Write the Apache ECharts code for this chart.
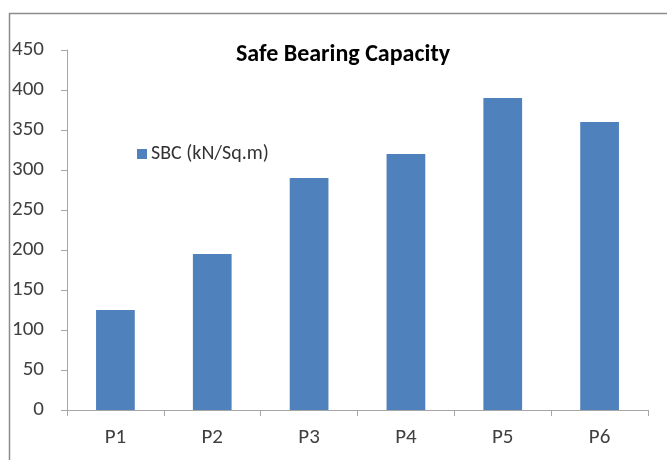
<!DOCTYPE html>
<html>
<head>
<meta charset="utf-8">
<script src="https://cdn.jsdelivr.net/npm/echarts@6/dist/echarts.min.js"></script>
<style>
  html, body { margin: 0; padding: 0; background: #fff; }
  #chart { width: 667px; height: 460px; }
</style>
</head>
<body>
<div id="chart"></div>
<script>
// Pile locations and their safe bearing capacity
const categories = ['P1', 'P2', 'P3', 'P4', 'P5', 'P6'];
const sbcValues = [125, 195, 290, 320, 390, 360];
const seriesName = 'SBC (kN/Sq.m)';
const chartTitle = 'Safe Bearing Capacity';

const fontFamily = 'Carlito, Calibri, "Open Sans", "Liberation Sans", sans-serif';
const chart = echarts.init(document.getElementById('chart'), null, { renderer: 'canvas' });

chart.setOption({
  backgroundColor: '#ffffff',
  animation: false,
  title: {
    text: chartTitle,
    left: 338,
    top: 38,
    textAlign: 'center',
    textStyle: { fontFamily, fontSize: 24, fontWeight: 'bold', color: '#000' }
  },
  legend: {
    data: [seriesName],
    left: 132,
    top: 139,
    icon: 'rect',
    itemWidth: 10,
    itemHeight: 10,
    itemGap: 4,
    textStyle: { fontFamily, fontSize: 20, color: '#333', padding: [0, 0, 0, -1] }
  },
  graphic: [{
    type: 'rect',
    shape: { x: 9.5, y: 13.5, width: 700, height: 500 },
    style: { fill: 'none', stroke: '#8c8c8c', lineWidth: 1.5 },
    silent: true
  }],
  grid: { left: 67, right: 19, top: 50, bottom: 50, containLabel: false },
  xAxis: {
    type: 'category',
    data: categories,
    boundaryGap: true,
    axisLine: { lineStyle: { color: '#a6a6a6', width: 1 } },
    axisTick: { show: true, alignWithLabel: false, length: 6, lineStyle: { color: '#a6a6a6' } },
    axisLabel: { fontFamily, fontSize: 21, color: '#404040', margin: 17 },
    splitLine: { show: false }
  },
  yAxis: {
    type: 'value',
    min: 0,
    max: 450,
    interval: 50,
    axisLine: { show: true, lineStyle: { color: '#a6a6a6', width: 1 } },
    axisTick: { show: true, length: 6, lineStyle: { color: '#a6a6a6' } },
    axisLabel: { fontFamily, fontSize: 21, color: '#404040', margin: 23 },
    splitLine: { show: false }
  },
  series: [{
    name: seriesName,
    type: 'bar',
    data: sbcValues,
    barWidth: '40%',
    itemStyle: { color: '#4f81bd' }
  }]
});
</script>
</body>
</html>
